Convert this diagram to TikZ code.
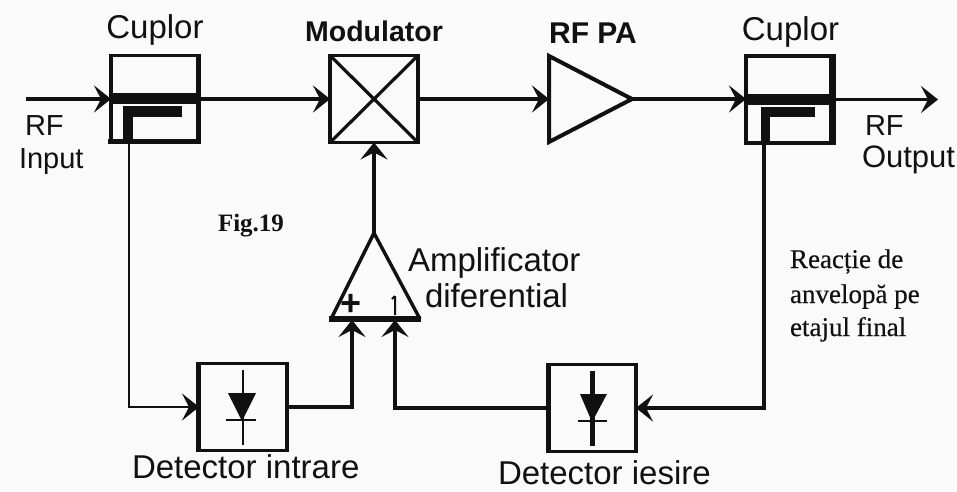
\documentclass[tikz,border=0pt]{standalone}
\usepackage{fontspec}
\setmainfont{Liberation Sans}
\newfontfamily\serifface[FakeBold=0.35]{Liberation Serif}
\newfontfamily\seriffig{Liberation Serif}
\usetikzlibrary{arrows.meta,calc}
\definecolor{ink}{HTML}{111111}
\definecolor{paper}{HTML}{FAFAFA}
\tikzset{
  x=1pt,y=-1pt,
  boxnode/.style={draw=ink,line width=3.2pt,rectangle,inner sep=0pt,outer sep=0pt,minimum width=88pt,minimum height=87pt},
  wire/.style={draw=ink,line width=3.2pt},
  thinwire/.style={draw=ink,line width=2.4pt},
  arr/.style={-{Stealth[length=17pt,width=27pt,inset=7pt]}},
  lab/.style={font=\fontsize{33}{35}\selectfont,text=ink,inner sep=0pt,outer sep=0pt},
  labs/.style={font=\fontsize{29}{31}\selectfont,text=ink,inner sep=0pt,outer sep=0pt},
  labb/.style={font=\fontsize{28.5}{30}\selectfont\bfseries,text=ink,inner sep=0pt,outer sep=0pt},
  note/.style={font=\serifface\fontsize{27}{29}\selectfont,text=ink,inner sep=0pt,outer sep=0pt,anchor=base west},
}
\begin{document}
\begin{tikzpicture}
\useasboundingbox[fill=paper] (0,0) rectangle (957,491);
% blocks
\node[boxnode] (c1) at (155,99) {};
\node[boxnode] (mod) at (374,99) {};
\node[boxnode] (c2) at (790,99.5) {};
\node[boxnode] (d1) at (243,407) {};
\node[boxnode] (d2) at (592,408) {};
% thick sides
\fill[ink] (196,55) rectangle (201,143);
\fill[ink] (108,139) rectangle (201,144);
\fill[ink] (829,56) rectangle (835,144);
\fill[ink] (744,56) rectangle (748,144);
\fill[ink] (196,362) rectangle (201,452);
\fill[ink] (546,363) rectangle (551,453);
% coupler internals
\fill[ink] (110,93) rectangle (200,104);
\fill[ink] (123,106) rectangle (182,117);
\fill[ink] (123,106) rectangle (133,140);
\fill[ink] (746,94) rectangle (834,105);
\fill[ink] (761,107) rectangle (815,117);
\fill[ink] (761,107) rectangle (770,141);
% modulator cross
\draw[wire] (mod.north west) -- (mod.south east);
\draw[wire] (mod.north east) -- (mod.south west);
% amplifiers
\coordinate (paw) at (549,99);
\coordinate (pae) at (632,99);
\draw[draw=ink,line width=4pt,line join=miter] (549,56) -- (pae) -- (549,142) -- cycle;
\coordinate (ampt) at (374,233);
\coordinate (ampp) at (352,320);
\coordinate (ampm) at (395,320);
\draw[draw=ink,line width=3.4pt] (ampt) -- (420,319);
\draw[draw=ink,line width=3.4pt] (ampt) -- (331,319);
\fill[ink] (329,316) rectangle (421,322);
% signal path
\coordinate (inp) at (26,99);
\coordinate (outp) at (938,99.5);
\draw[wire,arr] (inp) -- (c1.west);
\draw[wire,arr] (c1.east) -- (mod.west);
\draw[wire,arr] (mod.east) -- (paw);
\draw[wire,arr] (pae) -- (pae -| c2.west);
\draw[wire,arr] (c2.east) -- (outp);
\draw[wire,arr] (ampt) -- (mod.south);
% detector paths
\coordinate (c1t) at (129,142);
\coordinate (c2t) at (764,143);
\draw[thinwire,arr] (c1t) |- (d1.west);
\draw[wire,arr] (d1.east) -| (ampp);
\draw[wire,arr] (c2t) |- (d2.east);
\draw[wire,arr] (d2.west) -| (ampm);
% diodes
\draw[thinwire] (243,370) -- (243,445);
\fill[ink] (228,393) -- (256,393) -- (242,421) -- cycle;
\draw[thinwire] (226,420) -- (256,420);
\draw[draw=ink,line width=5pt] (592,371) -- (592,446);
\fill[ink] (580,394) -- (607,394) -- (592,422) -- cycle;
\draw[thinwire] (578,421) -- (607,421);
% amp signs
\node[labb,font=\fontsize{36}{36}\selectfont\bfseries] (plus) at (351,305) {+};
\draw[draw=ink,line width=2pt] (395,296) -- (395,315) (395,296) -- (392,299);
% labels
\node[lab] (t1) at (155,30) {Cuplor};
\node[labb] (t2) at (374,31) {Modulator};
\node[labb,font=\fontsize{30}{32}\selectfont\bfseries] (t3) at (593,33) {RF PA};
\node[lab] (t4) at (790.5,32) {Cuplor};
\node[labs,anchor=base west] (t5) at (25,135) {RF};
\node[labs,anchor=base west] (t6) at (19,168) {Input};
\node[labs,anchor=base west] (t7) at (865,135) {RF};
\node[lab,font=\fontsize{31}{33}\selectfont,anchor=base west] (t8) at (862,167) {Output};
\node[lab,anchor=base west] (t9) at (408,271) {Amplificator};
\node[lab,anchor=base west] (t10) at (425,307) {diferential};
\node[lab,anchor=base west] (t11) at (132,478) {Detector intrare};
\node[lab,anchor=base west] (t12) at (498,484) {Detector iesire};
\node[note,font=\seriffig\bfseries\fontsize{25}{27}\selectfont] (t13) at (218,231) {Fig.19};
\node[note] (t14) at (790,268) {Reacție de};
\node[note] (t15) at (790,303) {anvelopă pe};
\node[note] (t16) at (790,336) {etajul final};
\end{tikzpicture}
\end{document}
